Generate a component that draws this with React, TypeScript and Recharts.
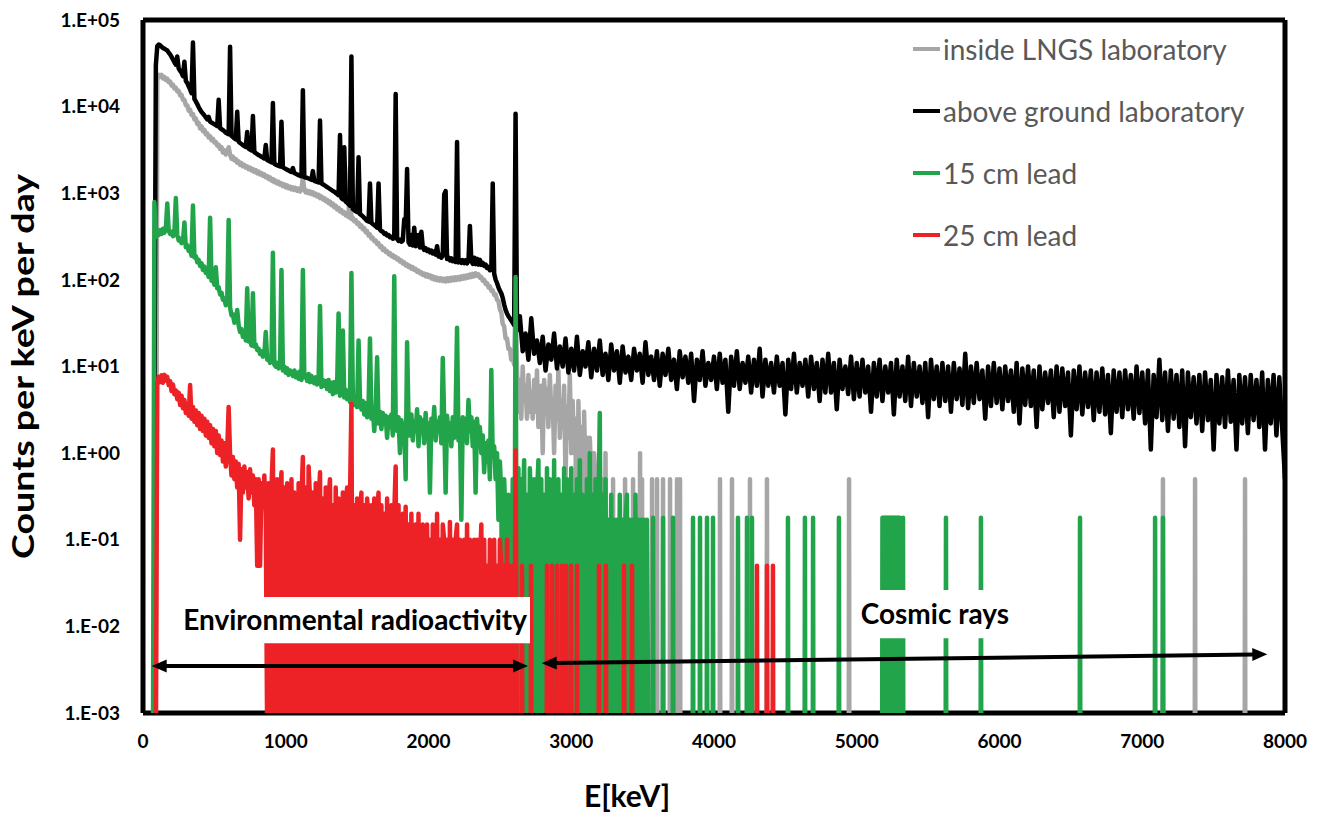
import React from 'react';
import {
  LineChart,
  Line,
  XAxis,
  YAxis,
  CartesianGrid,
  ReferenceArea,
  ReferenceLine,
  Legend,
} from 'recharts';

const FONT = 'Lato, "Open Sans", sans-serif';
// zero-count bins: placed below the 1.E-03 floor so they fall off the plot, as in the original
const FLOOR = 0.0005;

const energyTicks = [0, 1000, 2000, 3000, 4000, 5000, 6000, 7000, 8000];
const countTicks = [1e-3, 1e-2, 1e-1, 1, 1e1, 1e2, 1e3, 1e4, 1e5];

// ---------- above ground laboratory (black) ----------
const aboveStart = 80; // 10 keV bins
const above10 = [
  3, 30000, 50000, 52000, 51000, 49000, 47500, 46500, 45500, 44500,
  42000, 40000, 37500, 35000, 32500, 30500, 38000, 27500, 26000, 24500,
  22500, 33000, 19800, 18700, 17200, 15800, 14300, 55000, 12300, 11500,
  10700, 9900, 9200, 8700, 8300, 7900, 7500, 7150, 7600, 6700,
  6550, 6400, 6250, 6100, 5950, 12000, 5650, 5500, 5350, 5200,
  5000, 4900, 4800, 49000, 4600, 4450, 4300, 4200, 8700, 3950,
  3800, 3700, 3600, 3500, 3420, 5100, 3280, 3200, 3120, 7800,
  2980, 2900, 2830, 2760, 2700, 2640, 2580, 2520, 3600, 2420,
  2370, 2320, 2270, 11000, 2190, 2140, 2100, 2070, 2040, 6700,
  1990, 1950, 1910, 1870, 1830, 1790, 1760, 1950, 1710, 1680,
  1650, 1620, 1590, 1570, 15500, 1540, 1520, 1500, 1480, 1460,
  1430, 1800, 1390, 1370, 1350, 1330, 6900, 1300, 1270, 1240,
  1210, 1180, 1150, 1120, 1090, 1060, 1040, 1010, 980, 950,
  4700, 880, 850, 3400, 800, 780, 750, 720, 38000, 660,
  640, 620, 605, 2600, 575, 560, 540, 520, 500, 480,
  470, 1300, 455, 440, 430, 415, 400, 1300, 380, 365,
  360, 340, 345, 325, 330, 310, 315, 298, 303, 14000,
  298, 282, 292, 276, 285, 500, 420, 1900, 272, 255,
  330, 250, 400, 245, 254, 330, 236, 360, 238, 222,
  232, 216, 224, 208, 218, 202, 212, 196, 245, 186,
  194, 180, 190, 970, 1060, 174, 182, 168, 177, 164,
  173, 161, 3900, 159, 170, 157, 169, 156, 168, 155,
  166, 420, 166, 153, 180, 152, 175, 150, 170, 149,
  157, 145, 150, 137, 141, 129, 131, 1300, 118, 101,
  92, 82, 75, 70, 62, 52, 45, 41, 38, 36,
  34, 32, 30, 8300,
];
const aboveTailStart = 2620; // 20 keV bins
const aboveTail20 = [
  26, 38, 15, 24, 12, 36, 14, 20, 11, 22,
  9, 18, 12, 24, 9.5, 17, 10, 21, 8.5, 16,
  9, 22, 8, 15, 10, 19, 7.5, 16, 9, 20,
  8, 14, 7, 18, 9, 15, 6.5, 17, 8.5, 13,
  7, 16, 9, 14, 6.5, 19, 8, 13, 7, 15,
  6, 14, 8, 16, 7, 12, 5.5, 15, 7.5, 13,
  6.5, 14, 4, 12, 7, 15, 6, 11, 7, 13,
  5.5, 14, 6.5, 12, 3, 13, 6, 15, 5.5, 11,
  6.5, 13, 5, 12, 6, 16, 4.5, 12, 6, 11,
  5, 13, 6, 11, 2.8, 12, 5.5, 14, 5, 11,
  6, 12, 4.5, 13, 5.5, 11, 4, 12, 5, 14,
  5, 11, 3.2, 12, 5.5, 10, 4.8, 13, 4.2, 11,
  4.5, 12, 5, 10, 3, 11, 4.5, 12, 4, 10,
  5, 11, 2.8, 12, 4.5, 10, 4, 13, 3.5, 11,
  4.5, 10, 3.8, 11, 2.6, 12, 4.2, 10, 3.5, 11,
  4, 10, 3, 11, 4.2, 9.5, 3.6, 14, 3.3, 10,
  3.8, 11, 4.2, 9, 2.5, 10, 3.5, 11, 3.8, 9.5,
  3.2, 10, 4, 9, 3, 11, 2.2, 9.5, 3.6, 10,
  3.5, 9, 2, 10, 3.2, 8.5, 3.8, 9, 2.6, 10,
  3, 9.5, 3.5, 8.5, 1.6, 9, 3.2, 10, 2.8, 8.5,
  3.4, 9, 2.4, 8.5, 3, 9.5, 2.8, 8, 1.7, 9,
  3, 8.5, 2.6, 9, 3.2, 8, 2.5, 10, 2.9, 8.5,
  2.2, 9, 1.1, 8, 2.6, 12, 2.4, 8.5, 1.8, 9,
  2.5, 8, 2, 9, 1.2, 8.5, 2.6, 7.5, 2.2, 8,
  1.8, 8.5, 2.4, 7, 1.1, 8, 2.2, 7.5, 2, 9,
  2.3, 7, 1.1, 8, 2.2, 7.5, 1.7, 8, 2.4, 7,
  2, 8.5, 1.1, 7, 2.2, 8, 1.6, 7.5, 2, 0.5,
];

// ---------- inside LNGS laboratory (gray) ----------
const lngsStart = 90; // 10 keV bins
const lngs10 = [
  0, 21000, 23300, 22000, 23200, 21200, 22000, 20300, 21000, 19200,
  19500, 17600, 17900, 16200, 16500, 15000, 15200, 13500, 13700, 12000,
  12000, 10400, 10400, 9000, 9200, 8000, 8200, 7100, 7300, 6300,
  6500, 5600, 5900, 5200, 5400, 4800, 4900, 4400, 4550, 4100,
  4250, 3850, 3900, 3550, 3620, 3250, 3400, 2950, 3150, 2800,
  2950, 3400, 2800, 2500, 2650, 2400, 2480, 2250, 2330, 2120,
  2220, 2050, 2120, 1980, 2040, 1900, 1980, 1830, 1900, 1760,
  1850, 1700, 1780, 1650, 1710, 1590, 1650, 1530, 1580, 1460,
  1520, 1400, 1460, 1340, 1400, 1300, 1350, 1260, 1300, 1210,
  1270, 1170, 1230, 1140, 1190, 1110, 1170, 1090, 1150, 1070,
  1130, 1050, 1110, 1500, 1090, 1020, 1070, 1000, 1050, 980,
  1020, 950, 990, 920, 960, 880, 920, 850, 880, 810,
  840, 770, 800, 730, 760, 690, 720, 650, 680, 615,
  640, 585, 605, 555, 575, 530, 2000, 505, 520, 475,
  490, 445, 455, 410, 425, 385, 395, 355, 365, 325,
  335, 300, 305, 280, 285, 260, 265, 240, 245, 222,
  230, 210, 215, 198, 204, 188, 193, 180, 184, 172,
  176, 163, 167, 155, 159, 147, 151, 141, 145, 135,
  140, 130, 134, 124, 128, 119, 122, 114, 118, 110,
  116, 108, 113, 104, 110, 101, 107, 99, 105, 98,
  104, 97, 103, 96, 104, 97, 105, 98, 106, 99,
  107, 100, 108, 101, 110, 103, 111, 104, 113, 106,
  115, 108, 117, 110, 119, 112, 116, 106, 108, 98,
  100, 90, 92, 82, 84, 75, 76, 67, 68, 59,
  57, 46, 42, 31, 29, 21, 21, 16, 16, 12,
  12.5, 10.5, 60,
];
const lngsTailStart = 2620; // 10 keV bins
const lngsTail10 = [
  9, 3, 7, 2.5, 10, 4, 6, 2.5, 8, 3,
  5, 2.5, 7, 3, 9, 2, 5, 6, 1, 7,
  3, 5.5, 2, 8, 3, 4, 1, 6, 2.5, 9,
  1.5, 4, 2, 6, 0.5, 3.5, 1.5, 8, 1, 4,
  1, 2.5, 0, 4, 0.5, 2, 0, 3, 0.5, 1.5,
  0, 1.5, 0.5, 0, 1, 0.5, 0, 0.5, 1, 0,
  0.5, 0, 1, 0,
];
const lngsSingleE = [3293, 3377, 3433, 3482, 3496, 3566, 3601, 3643, 3692, 3741, 3762, 4042, 4126, 4252, 4371, 4946, 7145, 7370, 7720];
const lngsSingleV = [0.5, 0.5, 0.5, 1.0, 0.5, 0.5, 0.5, 0.5, 0.5, 0.5, 0.5, 0.5, 0.5, 0.5, 0.5, 0.5, 0.5, 0.5, 0.5];

// ---------- 15 cm lead (green) ----------
const lead15Start = 70; // 10 keV bins
const lead15_10 = [
  0, 790, 310, 360, 330, 375, 340, 390, 350, 385,
  760, 370, 340, 360, 320, 345, 880, 330, 285, 300,
  265, 280, 460, 238, 252, 215, 226, 190, 720, 182,
  188, 160, 170, 145, 156, 130, 142, 120, 128, 108,
  520, 98, 104, 88, 140, 80, 82, 68, 71, 59,
  61, 51, 55, 490, 48, 39, 40, 32, 33, 45,
  30, 25, 27, 22, 25, 20, 80, 19.5, 21, 17.5,
  70, 17, 18, 15.5, 16, 14, 15, 13, 13.5, 25,
  12, 12.5, 11, 11.5, 205, 10.5, 10, 11, 9.5, 10,
  130, 9, 10, 8.5, 9.5, 8, 9, 8.6, 7.8, 9,
  7.5, 8.5, 7.2, 8.8, 7, 130, 7.5, 8, 6.8, 8.2,
  6.6, 7.8, 7, 6.4, 7.5, 6.2, 7.2, 50, 5.8, 7,
  6, 6.8, 5.5, 7, 5.2, 6.5, 4.8, 6.6, 5, 6,
  41, 4.6, 5.8, 26, 4.4, 5.4, 4.2, 5, 3.9, 120,
  4.6, 3.6, 4.4, 3.4, 20, 4.2, 3.2, 4, 2.8, 3.8,
  2.6, 3.5, 21, 2.5, 3.4, 1.8, 3.2, 12.8, 2.2, 3,
  1.9, 2.9, 2.2, 2.7, 1.5, 2.6, 2.0, 2.8, 1.6, 110,
  2.4, 1.8, 2.6, 1.0, 2.4, 1.7, 2.2, 0.5, 19, 2.5,
  1.6, 2.8, 1.4, 2.3, 1.8, 3.2, 1.2, 2.6, 1.9, 2.4,
  1.3, 2.9, 1.6, 2.2, 0.35, 2.5, 1.7, 3.4, 1.4, 2.3,
  1.8, 2.6, 1.3, 12.5, 2.4, 0.35, 2.7, 1.6, 2.2, 1.2,
  2.6, 1.5, 2.9, 28, 1.4, 2.4, 0.17, 2.6, 1.6, 2.5,
  1.3, 4.1, 1.8, 2.6, 1.2, 2.3, 0.35, 2.5, 1.4, 2.0,
  1.0, 1.6, 0.6, 1.3, 0.8, 1.4, 0.5, 9.1, 0.9, 1.2,
  0.5, 1.0, 0.17, 0.8, 0.33, 0, 0.5, 0.17, 0, 0.33,
  0.17, 0, 0.5, 0, 108,
];
const lead15TailStart = 2620; // 10 keV bins
const lead15Tail10 = [
  0, 0.67, 0, 0.5, 0.17, 0.83, 0, 0.33, 0, 0.67,
  0.17, 0, 0.5, 0, 0.33, 0.83, 0, 0.5, 0, 0.33,
  0, 0.67, 0, 0.5, 0.17, 0, 0.83, 0, 0.33, 0.5,
  0, 0.33, 0, 0.67, 0, 0.5, 0.17, 0, 0.67, 0,
  0.33, 0, 0.5, 0, 0.83, 0, 0.33, 0.17, 0, 0.5,
  0, 1.0, 0, 0.33, 0, 0.5, 0, 0.17, 2.9, 0,
  0.33, 0, 0.5, 0, 0.17, 0, 0.33, 0, 0.17, 0,
  0.17, 0, 0.33, 0, 0.17, 0, 0.17, 0.33, 0, 0.17,
  0, 0.17, 0, 0.33, 0, 0.17, 0, 0.17, 0, 0.17,
  0, 0.17, 0,
];
const lead15SingleE = [
  3573, 3643, 3713, 3853, 3902, 3951, 3993, 4168, 4231, 4266, 4518, 4637, 4694, 4875,
  5180, 5190, 5200, 5210, 5220, 5230, 5240, 5250, 5260, 5270, 5280, 5290, 5300,
  5324, 5625, 5870, 6564, 7090, 7145,
];
const lead15OneCount = 0.18;

// ---------- 25 cm lead (red) ----------
const lead25Start = 90; // 10 keV bins
const lead25_10 = [
  0, 6.2, 7.6, 6.6, 7.9, 6.5, 8.0, 6.9, 7.6, 6.1,
  6.8, 5.2, 6.2, 4.8, 5.3, 4.2, 5.0, 3.6, 4.6, 3.3,
  4.1, 2.9, 3.7, 2.7, 6.1, 2.5, 3.4, 2.3, 3.1, 2.1,
  2.9, 1.9, 2.7, 1.8, 2.5, 1.6, 2.3, 1.5, 2.1, 1.3,
  1.9, 1.2, 1.8, 1.0, 1.6, 0.95, 1.4, 0.8, 1.3, 0.7,
  1.1, 3.4, 0.95, 0.55, 0.9, 0.5, 0.8, 0.4, 0.75, 0.1,
  0.65, 0.35, 0.7, 0.4, 0.6, 0.3, 0.65, 0.35, 0.55, 0.25,
  0.5, 0.05, 0.5, 0.05, 0.45, 0.25, 0.55, 0.2, 0, 0.45,
  0, 0.4, 1.1, 0, 0.35, 0.5, 0, 0.3, 0.6, 0,
  0.4, 0, 0.45, 0.3, 0, 0.5, 0, 0.35, 0.25, 0,
  0.45, 0, 0.3, 0.9, 0, 0.4, 0, 0.7, 0.3, 0,
  0.35, 0, 0.45, 0, 0.25, 0.6, 0, 0.3, 0, 0.4,
  0, 0.3, 0.5, 0, 0.25, 0, 0.4, 0, 0.3, 0.2,
  0, 0.35, 0, 0.25, 0.4, 0, 0.3, 3.7, 0, 0.25,
  0, 0.3, 0, 0.2, 0.35, 0, 0.25, 0, 0.3, 0.15,
  0, 0.25, 0, 0.3, 0, 0.2, 0.35, 0, 0.25, 0,
  0.2, 0, 0.3, 0, 0.15, 0.25, 0, 0.2, 0.7, 0,
  0.25, 0, 0.15, 0.2, 0, 0.24, 0, 0.15, 0, 0.2,
  0, 0.1, 0.15, 0, 0.2, 0, 0.1, 0.15, 0, 0.1,
  0.15, 0, 0.1, 0, 0.15, 0.1, 0, 0.2, 0, 0.1,
  0, 0.15, 0.1, 0, 0.1, 0, 0.16, 0, 0.1, 0,
  0.1, 0.15, 0, 0.1, 0, 0.05, 0.1, 0, 0.15, 0,
  0.1, 0, 0.05, 0.1, 0, 0.1, 0, 0.05, 0.15, 0,
  0.1, 0, 0.05, 0, 0.1, 0.05, 0, 0.1, 0, 0.05,
  0, 0.1, 0.05, 0, 0.05, 0, 0.1, 0, 0.05, 0,
  0.05, 0, 1.07, 0,
];
const lead25SingleE = [2655, 2718, 2830, 2865, 2900, 2935, 2963, 2998, 3040, 3194, 3243, 3370, 3426, 4301, 4371, 4413];
const lead25OneCount = 0.05;

// ---------- annotations ----------
const envBox = { e1: 260, e2: 2711, c1: 0.0064, c2: 0.0218, text: 'Environmental radioactivity' };
const cosmicBox = { e1: 4990, e2: 6105, c1: 0.0073, c2: 0.0263, text: 'Cosmic rays' };
const envArrow = [{ x: 61, y: 0.00349 }, { x: 2697, y: 0.00349 }];
const cosmicArrow = [{ x: 2793, y: 0.00375 }, { x: 7876, y: 0.00476 }];

type Pt = { e: number; v: number };
function bins(start: number, step: number, values: number[]): Pt[] {
  return values.map((v, i) => ({ e: start + i * step, v: v > 0 ? v : FLOOR }));
}
function singles(energies: number[], heights: number[] | number): Pt[] {
  return energies.flatMap((e, i) => {
    const h = Array.isArray(heights) ? heights[i] : heights;
    return [
      { e: e - 2, v: FLOOR },
      { e, v: h },
      { e: e + 2, v: FLOOR },
    ];
  });
}
function join(...parts: Pt[][]): Pt[] {
  return parts.flat().sort((a, b) => a.e - b.e);
}

const seriesList = [
  {
    name: 'inside LNGS laboratory',
    color: '#A6A6A6',
    data: join(bins(lngsStart, 10, lngs10), bins(lngsTailStart, 10, lngsTail10), singles(lngsSingleE, lngsSingleV)),
  },
  {
    name: 'above ground laboratory',
    color: '#000000',
    data: join(bins(aboveStart, 10, above10), bins(aboveTailStart, 20, aboveTail20)),
  },
  {
    name: '15 cm lead',
    color: '#22A44B',
    data: join(bins(lead15Start, 10, lead15_10), bins(lead15TailStart, 10, lead15Tail10), singles(lead15SingleE, lead15OneCount)),
  },
  {
    name: '25 cm lead',
    color: '#EC2227',
    data: join(bins(lead25Start, 10, lead25_10), singles(lead25SingleE, lead25OneCount)),
  },
];

const sci = (v: number) => {
  const p = Math.round(Math.log10(v));
  return `1.E${p < 0 ? '-' : '+'}${String(Math.abs(p)).padStart(2, '0')}`;
};

function DoubleArrow(props: any) {
  const { x1, y1, x2, y2 } = props;
  if ([x1, y1, x2, y2].some((n) => typeof n !== 'number' || isNaN(n))) return null;
  const a = Math.atan2(y2 - y1, x2 - x1);
  const L = 15;
  const W = 6.5;
  const head = (tx: number, ty: number, dir: number) => {
    const bx = tx - L * Math.cos(dir);
    const by = ty - L * Math.sin(dir);
    return `${tx},${ty} ${bx + W * Math.sin(dir)},${by - W * Math.cos(dir)} ${bx - W * Math.sin(dir)},${by + W * Math.cos(dir)}`;
  };
  const sx = x1 + (L - 2) * Math.cos(a);
  const sy = y1 + (L - 2) * Math.sin(a);
  const ex = x2 - (L - 2) * Math.cos(a);
  const ey = y2 - (L - 2) * Math.sin(a);
  return (
    <g>
      <line x1={sx} y1={sy} x2={ex} y2={ey} stroke="#000" strokeWidth={4} />
      <polygon points={head(x2, y2, a)} fill="#000" />
      <polygon points={head(x1, y1, a + Math.PI)} fill="#000" />
    </g>
  );
}

const LegendBox = () => (
  <div
    style={{
      position: 'relative',
      width: 400,
      height: 250,
      fontFamily: FONT,
      fontSize: 28,
      color: '#595959',
    }}
  >
    {seriesList.map((s, i) => (
      <div
        key={s.name}
        style={{
          position: 'absolute',
          left: 0,
          top: i * 62,
          height: 40,
          display: 'flex',
          alignItems: 'center',
          whiteSpace: 'nowrap',
          lineHeight: '40px',
        }}
      >
        <span style={{ display: 'inline-block', width: 27, height: 4, background: s.color, marginRight: 3 }} />
        <span>{s.name}</span>
      </div>
    ))}
  </div>
);

const boxLabel = (text: string) => ({
  value: text,
  position: 'center' as const,
  fill: '#000',
  fontSize: 28,
  fontWeight: 700,
  fontFamily: FONT,
});

export default function App() {
  return (
    <div style={{ position: 'absolute', left: 0, top: 0, width: 1323, height: 814, background: '#fff' }}>
      <LineChart width={1323} height={814} margin={{ top: 20, right: 38, bottom: 0, left: 0 }}>
        <CartesianGrid
          stroke="#000"
          strokeWidth={5}
          horizontalCoordinatesGenerator={(p: any) => [p.offset.top, p.offset.top + p.offset.height]}
          verticalCoordinatesGenerator={(p: any) => [p.offset.left, p.offset.left + p.offset.width]}
        />
        <XAxis
          dataKey="e"
          type="number"
          domain={[0, 8000]}
          ticks={energyTicks}
          allowDataOverflow
          height={101}
          axisLine={false}
          tickLine={false}
          tickSize={0}
          tickMargin={22}
          tick={{ fontFamily: FONT, fontSize: 19, fontWeight: 700, fill: '#000' }}
          label={{
            content: (p: any) => {
              const vb = p.viewBox || { x: 143, y: 713 };
              return (
                <text x={vb.x + 484} y={vb.y + 94} textAnchor="middle" fontFamily={FONT} fontWeight={700} fontSize={30} fill="#000">
                  E[keV]
                </text>
              );
            },
          }}
        />
        <YAxis
          type="number"
          scale="log"
          domain={[0.001, 100000]}
          ticks={countTicks}
          allowDataOverflow
          width={143}
          axisLine={false}
          tickLine={false}
          tickSize={0}
          tickMargin={23}
          tickFormatter={sci}
          tick={{ fontFamily: FONT, fontSize: 19, fontWeight: 700, fill: '#000' }}
          label={{
            content: (p: any) => {
              const vb = p.viewBox || { x: 0, y: 20, width: 143, height: 693 };
              const cx = vb.x + 33.5;
              const cy = vb.y + vb.height / 2;
              return (
                <text
                  x={cx}
                  y={cy}
                  transform={`rotate(-90, ${cx}, ${cy})`}
                  textAnchor="middle"
                  fontFamily={FONT}
                  fontWeight={700}
                  fontSize={30}
                  fill="#000"
                  textLength={385}
                  lengthAdjust="spacingAndGlyphs"
                >
                  Counts per keV per day
                </text>
              );
            },
          }}
        />
        {seriesList.map((s) => (
          <Line
            key={s.name}
            data={s.data}
            dataKey="v"
            name={s.name}
            stroke={s.color}
            strokeWidth={4.5}
            strokeLinejoin="round"
            dot={false}
            activeDot={false}
            type="linear"
            isAnimationActive={false}
            legendType="line"
          />
        ))}
        <ReferenceArea
          x1={envBox.e1}
          x2={envBox.e2}
          y1={envBox.c1}
          y2={envBox.c2}
          fill="#fff"
          fillOpacity={1}
          stroke="none"
          zIndex={1500}
          label={boxLabel(envBox.text)}
        />
        <ReferenceArea
          x1={cosmicBox.e1}
          x2={cosmicBox.e2}
          y1={cosmicBox.c1}
          y2={cosmicBox.c2}
          fill="#fff"
          fillOpacity={1}
          stroke="none"
          zIndex={1500}
          label={boxLabel(cosmicBox.text)}
        />
        <ReferenceLine segment={envArrow} zIndex={1600} shape={(p: any) => <DoubleArrow {...p} />} />
        <ReferenceLine segment={cosmicArrow} zIndex={1600} shape={(p: any) => <DoubleArrow {...p} />} />
        <Legend
          layout="vertical"
          align="center"
          verticalAlign="middle"
          wrapperStyle={{ left: 913, top: 29, width: 400, height: 250 }}
          content={() => <LegendBox />}
        />
      </LineChart>
    </div>
  );
}
